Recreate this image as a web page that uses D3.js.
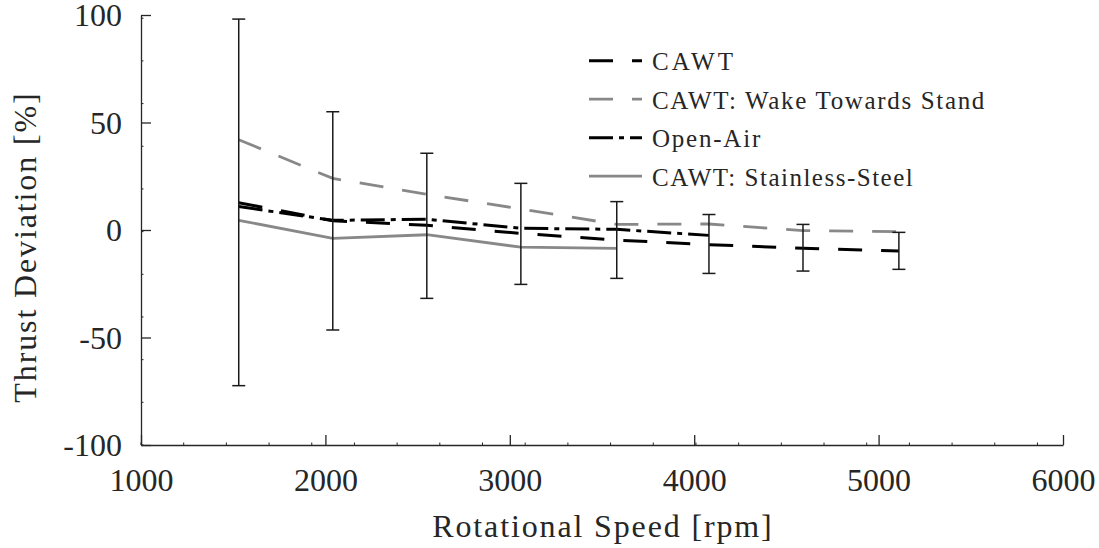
<!DOCTYPE html>
<html>
<head>
<meta charset="utf-8">
<script src="https://cdn.jsdelivr.net/npm/d3@7"></script>
<style>
  html, body { margin: 0; padding: 0; background: #fff; }
  svg { display: block; }
  text { font-family: "Liberation Serif", "Times New Roman", serif; fill: #262626; }
</style>
</head>
<body>
<svg id="chart" width="1099" height="548"></svg>
<script>
// ---- data ----
const rpm = [1530, 2040, 2550, 3060, 3580, 4080, 4590, 5110];
const cawt = [12.7, 4.3, 2.2, -1.6, -4.7, -6.8, -8.5, -9.8];
const cawtErrUpper = [98.1, 55.0, 35.7, 21.7, 13.2, 7.2, 2.6, -1.1];
const cawtErrLower = [-72.4, -46.5, -31.8, -25.3, -22.5, -20.2, -19.1, -18.3];
const wakeTowardsStand = [42.0, 24.0, 16.6, 9.8, 2.6, 2.8, -0.3, -0.8];
const openAir = [10.9, 4.5, 5.0, 0.8, 0.3, -2.5];
const stainlessSteel = [4.5, -3.9, -2.2, -8.0, -8.5];
const xTicks = [1000, 2000, 3000, 4000, 5000, 6000];
const yTicks = [-100, -50, 0, 50, 100];
const yTickLabels = ["-100", "-50", "0", "50", "100"];
const xMinorStep = 231.5;
const yMinorStep = 19.85;
const xLabel = "Rotational Speed [rpm]";
const yLabel = "Thrust Deviation [%]";
const seriesNames = ["CAWT", "CAWT: Wake Towards Stand", "Open-Air", "CAWT: Stainless-Steel"];

(function draw() {
  const svg = d3.select("#chart");
  const pl = 141, pr = 1063, pt = 15, pb = 445;
  const x = d3.scaleLinear().domain([1000, 6000]).range([pl, pr]);
  const y = d3.scaleLinear().domain([-100, 100]).range([pb, pt]);
  const axisColor = "#262626";
  const gray = "#888888";
  const stretch = 1.13;

  // minor ticks
  const xMinor = d3.range(1000, 6000, xMinorStep);
  const yMinor = d3.range(-100, 100, yMinorStep);
  svg.append("g").selectAll("line").data(xMinor).join("line")
    .attr("x1", d => x(d)).attr("x2", d => x(d))
    .attr("y1", pb).attr("y2", pb - 2.5)
    .attr("stroke", axisColor).attr("stroke-width", 1);
  svg.append("g").selectAll("line").data(yMinor).join("line")
    .attr("y1", d => y(d)).attr("y2", d => y(d))
    .attr("x1", pl).attr("x2", pl + 2.5)
    .attr("stroke", axisColor).attr("stroke-width", 1);

  // x axis
  const gx = svg.append("g").attr("transform", `translate(0,${pb})`)
    .call(d3.axisBottom(x).tickValues(xTicks).tickFormat(d3.format("d"))
      .tickSizeInner(-10).tickSizeOuter(0));
  gx.select(".domain").attr("stroke", axisColor).attr("stroke-width", 1.3);
  gx.selectAll(".tick line").attr("stroke", axisColor).attr("stroke-width", 1.3);
  gx.selectAll(".tick text")
    .attr("font-family", "Liberation Serif").attr("font-size", 32)
    .attr("fill", axisColor).attr("dy", null).attr("y", 46);

  // y axis
  const gy = svg.append("g").attr("transform", `translate(${pl},0)`)
    .call(d3.axisLeft(y).tickValues(yTicks).tickFormat((d, i) => yTickLabels[i])
      .tickSizeInner(-10).tickSizeOuter(0));
  gy.select(".domain").attr("stroke", axisColor).attr("stroke-width", 1.3);
  gy.selectAll(".tick line").attr("stroke", axisColor).attr("stroke-width", 1.3);
  gy.selectAll(".tick text")
    .attr("font-family", "Liberation Serif").attr("font-size", 32)
    .attr("fill", axisColor).attr("x", -19).attr("dy", "0.34em");

  function stretchText(sel) {
    sel.each(function () {
      const w = this.getComputedTextLength();
      d3.select(this).attr("textLength", w * stretch).attr("lengthAdjust", "spacing");
    });
  }
  svg.append("text")
    .attr("x", (pl + pr) / 2).attr("y", 537)
    .attr("text-anchor", "middle").attr("font-size", 32)
    .text(xLabel).call(stretchText);
  svg.append("text")
    .attr("transform", `translate(36,${(pt + pb) / 2 + 18}) rotate(-90)`)
    .attr("text-anchor", "middle").attr("font-size", 32)
    .text(yLabel).call(stretchText);

  // series
  const line = d3.line().x((d, i) => x(rpm[i])).y(d => y(d));
  const dashPattern = "24,19";
  const dashDotPattern = "24,6,5,6";
  const series = [
    { name: seriesNames[0], values: cawt, color: "#000", width: 3, dash: dashPattern },
    { name: seriesNames[1], values: wakeTowardsStand, color: gray, width: 2.8, dash: dashPattern },
    { name: seriesNames[2], values: openAir, color: "#000", width: 3, dash: dashDotPattern },
    { name: seriesNames[3], values: stainlessSteel, color: gray, width: 2.8, dash: null }
  ];
  svg.append("g").selectAll("path").data(series).join("path")
    .attr("d", d => line(d.values))
    .attr("fill", "none")
    .attr("stroke", d => d.color)
    .attr("stroke-width", d => d.width)
    .attr("stroke-dasharray", d => d.dash);

  // error bars (CAWT)
  const eb = svg.append("g").attr("stroke", "#1a1a1a").attr("stroke-width", 1.5);
  const capHalf = 6.5;
  rpm.forEach((r, i) => {
    const cx = x(r);
    eb.append("line").attr("x1", cx).attr("x2", cx)
      .attr("y1", y(cawtErrUpper[i])).attr("y2", y(cawtErrLower[i]));
    eb.append("line").attr("x1", cx - capHalf).attr("x2", cx + capHalf)
      .attr("y1", y(cawtErrUpper[i])).attr("y2", y(cawtErrUpper[i]));
    eb.append("line").attr("x1", cx - capHalf).attr("x2", cx + capHalf)
      .attr("y1", y(cawtErrLower[i])).attr("y2", y(cawtErrLower[i]));
  });

  // legend
  const legX = 589, legLen = 53, legY0 = 60.7, legStep = 38.5;
  const leg = svg.append("g");
  series.forEach((s, i) => {
    const ly = legY0 + i * legStep;
    leg.append("line")
      .attr("x1", legX).attr("x2", legX + legLen)
      .attr("y1", ly).attr("y2", ly)
      .attr("stroke", s.color).attr("stroke-width", s.width)
      .attr("stroke-dasharray", s.dash);
    leg.append("text")
      .attr("x", legX + legLen + 10).attr("y", ly + 9.3)
      .attr("font-size", 25)
      .text(s.name).call(stretchText);
  });
})();
</script>
</body>
</html>
